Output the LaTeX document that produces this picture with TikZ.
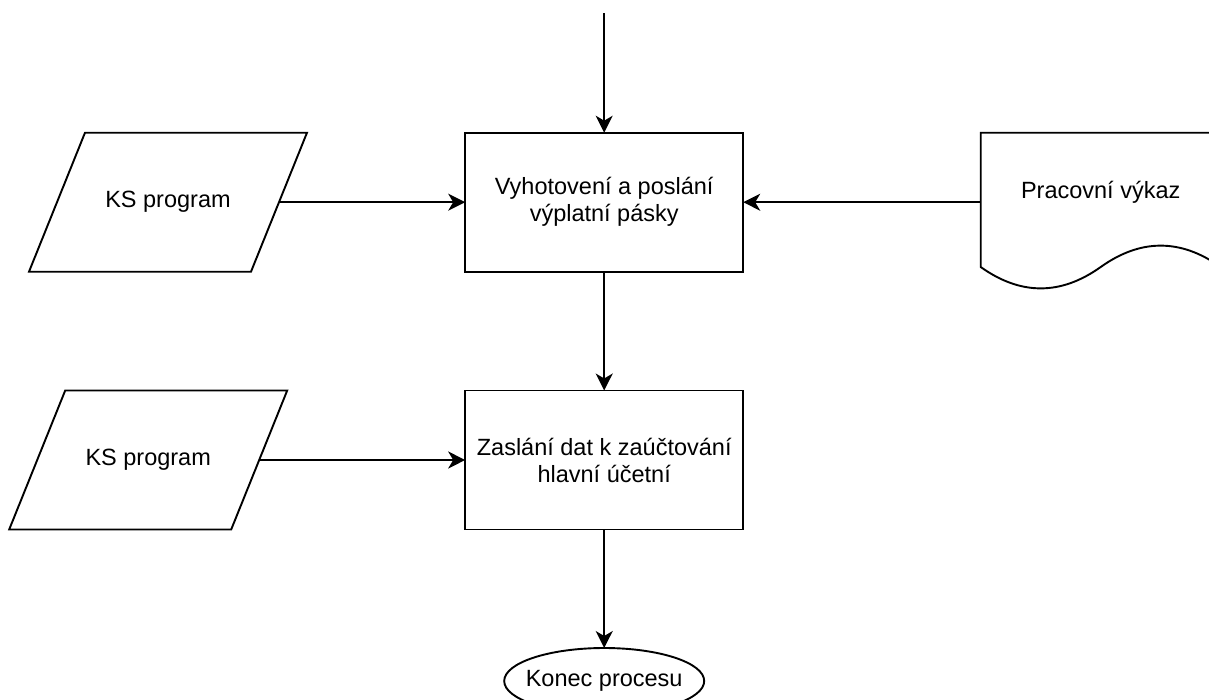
\documentclass[tikz,border=0pt]{standalone}
\usepackage{fontspec}
\setmainfont{Liberation Sans}
\usetikzlibrary{arrows.meta,shapes.geometric}
\begin{document}
\begin{tikzpicture}[x=1pt,y=-1pt,
  line width=1.9pt,
  every node/.style={font=\fontsize{23.5}{27}\selectfont, outer sep=0pt, inner sep=0pt, align=center},
  procbox/.style={draw, rectangle, minimum width=278pt, minimum height=139pt},
  iobox/.style={rectangle, minimum width=278pt, minimum height=139pt},
  docbox/.style={rectangle, minimum width=240pt, minimum height=139pt},
  flow/.style={-{Stealth[length=17pt,width=17pt,inset=5pt]}},
  endbox/.style={draw, ellipse, inner xsep=-12pt, inner ysep=0pt, minimum width=200pt, minimum height=66pt}
]
\useasboundingbox (0,0) rectangle (1209,699);
\clip (0,0) rectangle (1209,699);

% process steps
\node[procbox] (box1) at (604.2,202.2) {Vyhotovení a poslání\\výplatní pásky};
\node[procbox] (box2) at (604.2,460) {Zaslání dat k zaúčtování\\hlavní účetní};

% input data (parallelograms)
\node[iobox] (ks1) at (168,202.2) {KS program};
\node[iobox] (ks2) at (148.2,460) {KS program};
\foreach \n in {ks1,ks2}
  \draw ([xshift=56pt]\n.north west) -- (\n.north east)
        -- ([xshift=-56pt]\n.south east) -- (\n.south west) -- cycle;

% document with wavy bottom edge
\node[docbox] (doc) at (1100.7,202.2) {};
\node (doctext) at (1100.7,192) {Pracovní výkaz};
\draw (980.7,132.7) -- (1220.7,132.7) -- (1220.7,267)
  .. controls (1180.7,238.5) and (1140.7,238.5) .. (1100.7,267)
  .. controls (1060.7,295.5) and (1020.7,295.5) .. (980.7,267) -- cycle;

% terminator
\node[endbox] (end) at (604.2,681) {Konec procesu};

% connectors
\coordinate (entry) at (604.2,13);
\draw[flow] (entry) -- (box1.north);
\draw[flow] ([xshift=-28pt]ks1.east) -- (box1.west);
\draw[flow] (doc.west) -- (box1.east);
\draw[flow] (box1.south) -- (box2.north);
\draw[flow] ([xshift=-28pt]ks2.east) -- (box2.west);
\draw[flow] (box2.south) -- (end.north);
\end{tikzpicture}
\end{document}
